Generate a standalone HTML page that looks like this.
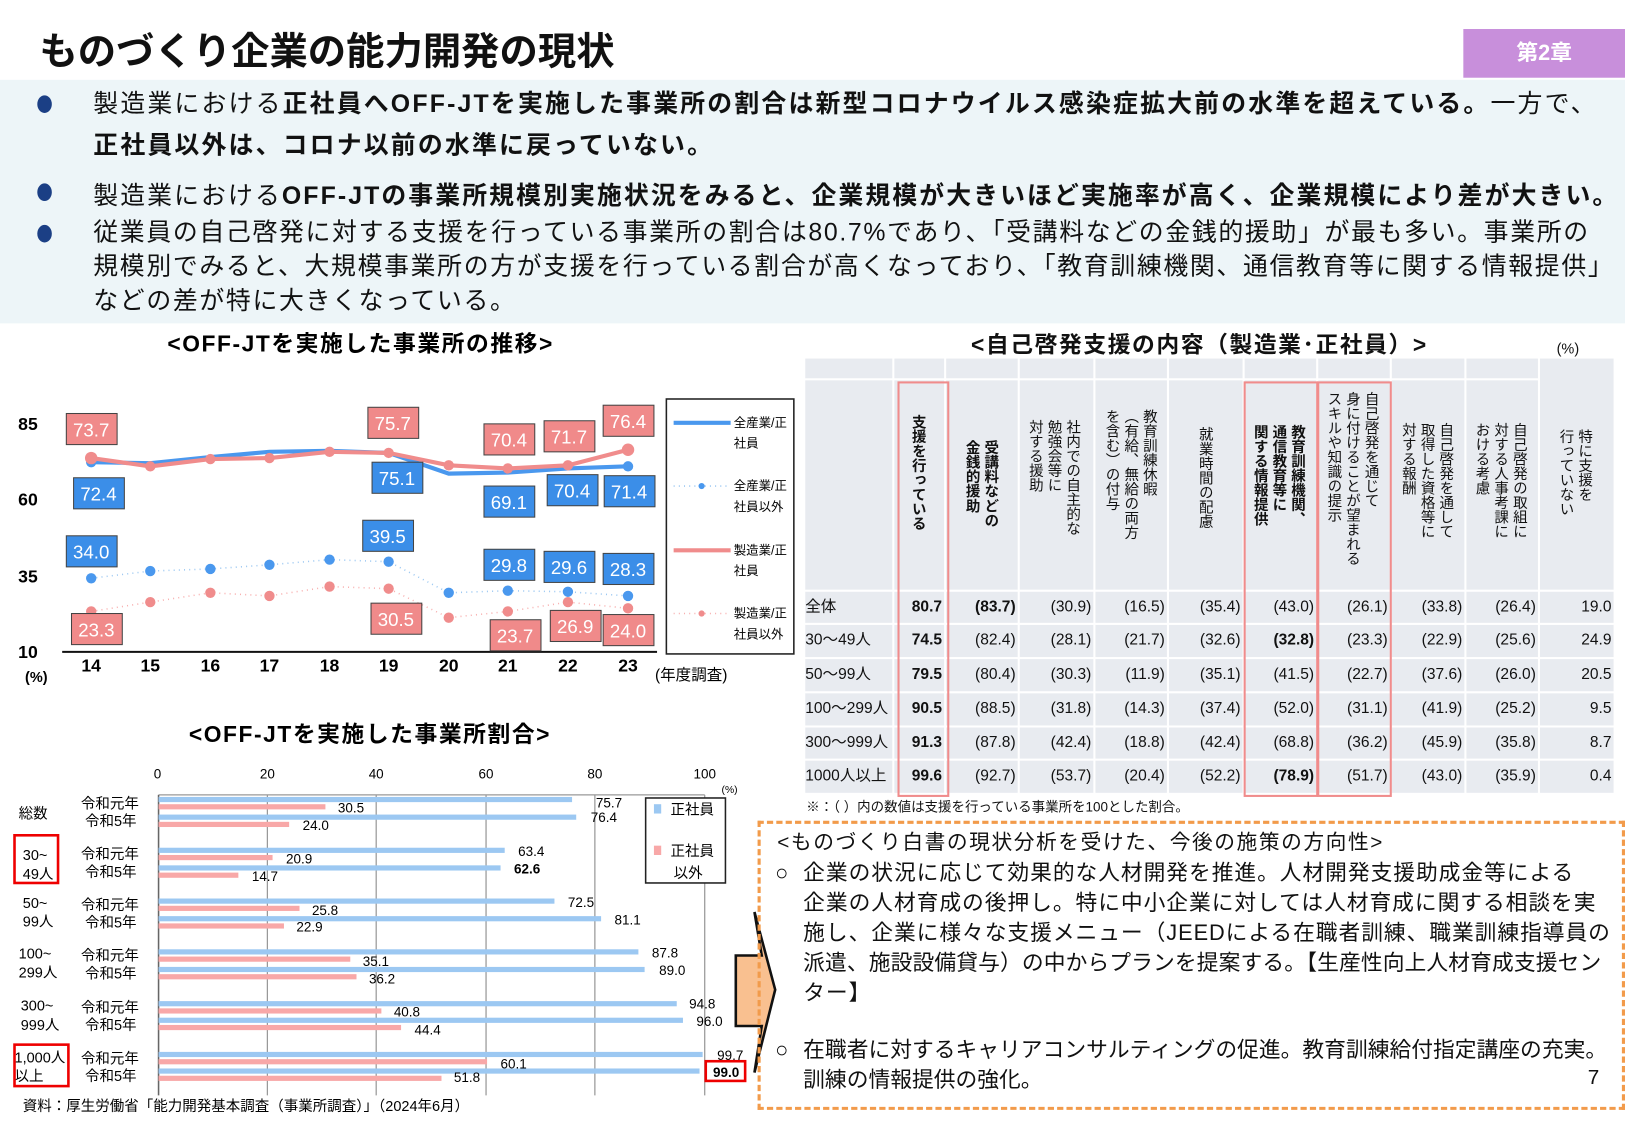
<!DOCTYPE html>
<html><head><meta charset="utf-8">
<style>
html,body{margin:0;padding:0;background:#fff;width:1625px;height:1125px;overflow:hidden}
#w{position:absolute;left:0;top:0;width:1568px;height:1085px;transform:scale(1.03635);transform-origin:0 0;font-family:"Liberation Sans","Noto Sans CJK JP",sans-serif;color:#111}
.a{position:absolute;white-space:nowrap}
.b{font-weight:bold}
svg text{font-family:"Liberation Sans","Noto Sans CJK JP",sans-serif}
.c{position:absolute;background:#e8ebf0;box-sizing:border-box;font-size:15px;text-align:right;line-height:30px;padding-right:2px;overflow:hidden}
.v{position:absolute;writing-mode:vertical-rl;font-size:14px;line-height:18px;white-space:nowrap}
</style></head><body><div id="w">
<div class="a b" style="left:38px;top:19px;font-size:37px">ものづくり企業の能力開発の現状</div>
<div class="a b" style="left:1412px;top:28px;width:156px;height:47px;background:#c88fdb;color:#fff;font-size:21px;text-align:center;line-height:47px">第2章</div>
<div class="a" style="left:0;top:77px;width:1568px;height:235px;background:#edf5f8"></div>
<div class="a" style="left:36px;top:92px;width:14px;height:17px;border-radius:50%;background:#1b3f85"></div>
<div class="a" style="left:36px;top:177px;width:14px;height:17px;border-radius:50%;background:#1b3f85"></div>
<div class="a" style="left:36px;top:217px;width:14px;height:17px;border-radius:50%;background:#1b3f85"></div>
<div class="a" style="left:90px;top:81px;font-size:24px;line-height:40px;letter-spacing:2.1px">製造業における<b>正社員へOFF-JTを実施した事業所の割合は新型コロナウイルス感染症拡大前の水準を超えている。</b>一方で、<br><b>正社員以外は、コロナ以前の水準に戻っていない。</b></div>
<div class="a" style="left:90px;top:169px;font-size:24px;letter-spacing:2px">製造業における<b>OFF-JTの事業所規模別実施状況をみると、企業規模が大きいほど実施率が高く、企業規模により差が大きい。</b></div>
<div class="a" style="left:90px;top:208px;font-size:24px;line-height:33px;letter-spacing:1.6px">従業員の自己啓発に対する支援を行っている事業所の割合は80.7%であり、「受講料などの金銭的援助」が最も多い。事業所の<br>規模別でみると、大規模事業所の方が支援を行っている割合が高くなっており、「教育訓練機関、通信教育等に関する情報提供」<br>などの差が特に大きくなっている。</div>

<svg class="a" style="left:0;top:0" width="780" height="1085">
<text x="348" y="339" font-size="22" font-weight="bold" text-anchor="middle" letter-spacing="1.5">&lt;OFF-JTを実施した事業所の推移&gt;</text>
<g font-size="17" font-weight="bold" text-anchor="middle">
<text x="27" y="415">85</text><text x="27" y="488">60</text><text x="27" y="562">35</text><text x="27" y="635">10</text>
<text x="35" y="658" font-size="14">(%)</text>
<text x="88" y="648">14</text><text x="145" y="648">15</text><text x="203" y="648">16</text><text x="260" y="648">17</text><text x="318" y="648">18</text><text x="375" y="648">19</text><text x="433" y="648">20</text><text x="490" y="648">21</text><text x="548" y="648">22</text><text x="606" y="648">23</text>
</g>
<text x="632" y="656" font-size="15">(年度調査)</text>
<line x1="60" y1="629" x2="634" y2="629" stroke="#111" stroke-width="2"/>
<polyline fill="none" stroke="#4a98ee" stroke-width="4" points="88,446 145,447 203,441 260,436 318,435 375,437 433,457 490,456 548,452 606,450"/>
<polyline fill="none" stroke="#f08c8c" stroke-width="4" points="88,442 145,450 203,443 260,442 318,436 375,437 433,449 490,452 548,449 606,434"/>
<g fill="#4a98ee"><circle cx="88" cy="446" r="5"/><circle cx="606" cy="450" r="5"/></g>
<g fill="#f08c8c"><circle cx="88" cy="442" r="6"/><circle cx="145" cy="450" r="5"/><circle cx="203" cy="443" r="5"/><circle cx="260" cy="442" r="5"/><circle cx="318" cy="436" r="5"/><circle cx="375" cy="437" r="5"/><circle cx="433" cy="449" r="5"/><circle cx="490" cy="452" r="5"/><circle cx="548" cy="449" r="5"/><circle cx="606" cy="434" r="6"/></g>
<polyline fill="none" stroke="#9cc8f2" stroke-width="1.5" stroke-dasharray="1,4" points="88,558 145,551 203,549 260,545 318,540 375,542 433,572 490,570 548,571 606,575"/>
<polyline fill="none" stroke="#f8b0b0" stroke-width="1.5" stroke-dasharray="1,4" points="88,590 145,581 203,572 260,575 318,566 375,568 433,596 490,590 548,581 606,587"/>
<g fill="#4a98ee"><circle cx="88" cy="558" r="5"/><circle cx="145" cy="551" r="5"/><circle cx="203" cy="549" r="5"/><circle cx="260" cy="545" r="5"/><circle cx="318" cy="540" r="5"/><circle cx="375" cy="542" r="5"/><circle cx="433" cy="572" r="5"/><circle cx="490" cy="570" r="5"/><circle cx="548" cy="571" r="5"/><circle cx="606" cy="575" r="5"/></g>
<g fill="#f08c8c"><circle cx="88" cy="590" r="5"/><circle cx="145" cy="581" r="5"/><circle cx="203" cy="572" r="5"/><circle cx="260" cy="575" r="5"/><circle cx="318" cy="566" r="5"/><circle cx="375" cy="568" r="5"/><circle cx="433" cy="596" r="5"/><circle cx="490" cy="590" r="5"/><circle cx="548" cy="581" r="5"/><circle cx="606" cy="587" r="5"/></g>
<g stroke="#444" stroke-width="1">
<g fill="#f08a8a"><rect x="64" y="399" width="49" height="30"/><rect x="355" y="393" width="49" height="30"/><rect x="467" y="409" width="49" height="30"/><rect x="525" y="406" width="49" height="30"/><rect x="582" y="391" width="49" height="30"/>
<rect x="69" y="592" width="49" height="30"/><rect x="358" y="582" width="49" height="30"/><rect x="473" y="598" width="49" height="30"/><rect x="531" y="589" width="49" height="30"/><rect x="582" y="593" width="49" height="30"/></g>
<g fill="#3b8ee8"><rect x="71" y="461" width="49" height="30"/><rect x="359" y="446" width="49" height="30"/><rect x="467" y="469" width="49" height="30"/><rect x="528" y="458" width="49" height="30"/><rect x="583" y="459" width="49" height="30"/>
<rect x="64" y="517" width="49" height="30"/><rect x="350" y="502" width="49" height="30"/><rect x="467" y="530" width="49" height="30"/><rect x="525" y="532" width="49" height="30"/><rect x="582" y="534" width="49" height="30"/></g>
</g>
<g font-size="18" fill="#fff" text-anchor="middle" font-family="Liberation Mono,monospace">
<text x="88" y="421">73.7</text><text x="379" y="415">75.7</text><text x="491" y="431">70.4</text><text x="549" y="428">71.7</text><text x="606" y="413">76.4</text>
<text x="93" y="614">23.3</text><text x="382" y="604">30.5</text><text x="497" y="620">23.7</text><text x="555" y="611">26.9</text><text x="606" y="615">24.0</text>
<text x="95" y="483">72.4</text><text x="383" y="468">75.1</text><text x="491" y="491">69.1</text><text x="552" y="480">70.4</text><text x="607" y="481">71.4</text>
<text x="88" y="539">34.0</text><text x="374" y="524">39.5</text><text x="491" y="552">29.8</text><text x="549" y="554">29.6</text><text x="606" y="556">28.3</text>
</g>
<rect x="643" y="385" width="123" height="246" fill="#fff" stroke="#222" stroke-width="1.5"/>
<line x1="650" y1="408" x2="705" y2="408" stroke="#4a98ee" stroke-width="4"/>
<line x1="650" y1="469" x2="705" y2="469" stroke="#9cc8f2" stroke-width="1.5" stroke-dasharray="1,4"/><circle cx="677" cy="469" r="3" fill="#4a98ee"/>
<line x1="650" y1="531" x2="705" y2="531" stroke="#f08c8c" stroke-width="4"/>
<line x1="650" y1="592" x2="705" y2="592" stroke="#f8b0b0" stroke-width="1.5" stroke-dasharray="1,4"/><circle cx="677" cy="592" r="3" fill="#f08c8c"/>
<g font-size="12"><text x="708" y="412">全産業/正</text><text x="708" y="432">社員</text><text x="708" y="473">全産業/正</text><text x="708" y="493">社員以外</text><text x="708" y="535">製造業/正</text><text x="708" y="555">社員</text><text x="708" y="596">製造業/正</text><text x="708" y="616">社員以外</text></g>

<text x="357" y="716" font-size="22" font-weight="bold" text-anchor="middle" letter-spacing="1.5">&lt;OFF-JTを実施した事業所割合&gt;</text>
<g font-size="13" text-anchor="middle"><text x="152" y="751">0</text><text x="258" y="751">20</text><text x="363" y="751">40</text><text x="469" y="751">60</text><text x="574" y="751">80</text><text x="680" y="751">100</text><text x="704" y="765" font-size="10">(%)</text></g>
<g stroke="#999" stroke-width="1.2"><line x1="258" y1="767" x2="258" y2="1057"/><line x1="363" y1="767" x2="363" y2="1057"/><line x1="469" y1="767" x2="469" y2="1057"/><line x1="574" y1="767" x2="574" y2="1057"/><line x1="680" y1="767" x2="680" y2="1057"/><line x1="153" y1="767" x2="680" y2="767"/></g>
<line x1="153" y1="767" x2="153" y2="1057" stroke="#666" stroke-width="1.5"/>
<g fill="#9cc8f2">
<rect x="153" y="769" width="399" height="5"/><rect x="153" y="786" width="403" height="5"/>
<rect x="153" y="818" width="334" height="5"/><rect x="153" y="835" width="330" height="5"/>
<rect x="153" y="867" width="382" height="5"/><rect x="153" y="884" width="427" height="5"/>
<rect x="153" y="916" width="463" height="5"/><rect x="153" y="933" width="469" height="5"/>
<rect x="153" y="966" width="500" height="5"/><rect x="153" y="982" width="506" height="5"/>
<rect x="153" y="1015" width="525" height="5"/><rect x="153" y="1031" width="522" height="5"/></g>
<g fill="#f8a8a8">
<rect x="153" y="776" width="161" height="5"/><rect x="153" y="793" width="126" height="5"/>
<rect x="153" y="825" width="110" height="5"/><rect x="153" y="842" width="77" height="5"/>
<rect x="153" y="874" width="136" height="5"/><rect x="153" y="891" width="121" height="5"/>
<rect x="153" y="923" width="185" height="5"/><rect x="153" y="940" width="191" height="5"/>
<rect x="153" y="973" width="215" height="5"/><rect x="153" y="989" width="234" height="5"/>
<rect x="153" y="1022" width="317" height="5"/><rect x="153" y="1038" width="273" height="5"/></g>
<g font-size="13">
<text x="575" y="779">75.7</text><text x="326" y="784">30.5</text><text x="570" y="793">76.4</text><text x="292" y="801">24.0</text>
<text x="500" y="826">63.4</text><text x="276" y="833">20.9</text><text x="496" y="843" font-weight="bold">62.6</text><text x="243" y="850">14.7</text>
<text x="548" y="875">72.5</text><text x="301" y="883">25.8</text><text x="593" y="892">81.1</text><text x="286" y="899">22.9</text>
<text x="629" y="924">87.8</text><text x="350" y="932">35.1</text><text x="636" y="941">89.0</text><text x="356" y="949">36.2</text>
<text x="665" y="973">94.8</text><text x="380" y="981">40.8</text><text x="672" y="990">96.0</text><text x="400" y="998">44.4</text>
<text x="692" y="1023">99.7</text><text x="483" y="1031">60.1</text><text x="438" y="1044">51.8</text><text x="688" y="1039" font-weight="bold">99.0</text></g>
<rect x="681" y="1024" width="38" height="19" fill="none" stroke="#e00" stroke-width="2.5"/>
<g font-size="14"><text x="18" y="790">総数</text><text x="22" y="830">30~</text><text x="22" y="848">49人</text><text x="22" y="876">50~</text><text x="22" y="894">99人</text><text x="18" y="925">100~</text><text x="18" y="943">299人</text><text x="20" y="975">300~</text><text x="20" y="994">999人</text><text x="14" y="1025">1,000人</text><text x="14" y="1043">以上</text></g>
<g font-size="14"><text x="78" y="780">令和元年</text><text x="82" y="797">令和5年</text><text x="78" y="829">令和元年</text><text x="82" y="846">令和5年</text><text x="78" y="878">令和元年</text><text x="82" y="895">令和5年</text><text x="78" y="927">令和元年</text><text x="82" y="944">令和5年</text><text x="78" y="977">令和元年</text><text x="82" y="994">令和5年</text><text x="78" y="1026">令和元年</text><text x="82" y="1043">令和5年</text></g>
<rect x="14" y="806" width="42" height="46" fill="none" stroke="#e00" stroke-width="2.5"/>
<rect x="14" y="1008" width="52" height="40" fill="none" stroke="#e00" stroke-width="2.5"/>
<rect x="623" y="770" width="77" height="82" fill="#fff" stroke="#222" stroke-width="1.5"/>
<rect x="631" y="776" width="7" height="9" fill="#9cc8f2"/><rect x="631" y="816" width="7" height="9" fill="#f8a8a8"/>
<g font-size="14"><text x="647" y="786">正社員</text><text x="647" y="826">正社員</text><text x="650" y="847">以外</text></g>
<text x="22" y="1072" font-size="14">資料：厚生労働省「能力開発基本調査（事業所調査）」（2024年6月）</text>
<path d="M710,922 L735,922 L728,880 L748,955 L728,1035 L735,990 L710,990 Z" fill="#f9c090" stroke="#111" stroke-width="2.5"/>
</svg>

<div class="a b" style="left:937px;top:315px;font-size:22px;letter-spacing:1.5px">&lt;自己啓発支援の内容（製造業･正社員）&gt;</div>
<div class="a" style="left:1502px;top:328px;font-size:14px">(%)</div>

<div style="position:absolute;left:0;top:0">
<div class="c" style="left:777px;top:346px;width:84px;height:19px"></div>
<div class="c" style="left:863px;top:346px;width:48px;height:19px"></div>
<div class="c" style="left:913px;top:346px;width:69px;height:19px"></div>
<div class="c" style="left:984px;top:346px;width:71px;height:19px"></div>
<div class="c" style="left:1057px;top:346px;width:69px;height:19px"></div>
<div class="c" style="left:1128px;top:346px;width:71px;height:19px"></div>
<div class="c" style="left:1201px;top:346px;width:69px;height:19px"></div>
<div class="c" style="left:1272px;top:346px;width:69px;height:19px"></div>
<div class="c" style="left:1343px;top:346px;width:70px;height:19px"></div>
<div class="c" style="left:1415px;top:346px;width:69px;height:19px"></div>
<div class="c" style="left:1486px;top:346px;width:71px;height:223px"></div>
<div class="c" style="left:777px;top:367px;width:84px;height:202px"></div>
<div class="c" style="left:863px;top:367px;width:48px;height:202px"></div>
<div class="c" style="left:913px;top:367px;width:69px;height:202px"></div>
<div class="c" style="left:984px;top:367px;width:71px;height:202px"></div>
<div class="c" style="left:1057px;top:367px;width:69px;height:202px"></div>
<div class="c" style="left:1128px;top:367px;width:71px;height:202px"></div>
<div class="c" style="left:1201px;top:367px;width:69px;height:202px"></div>
<div class="c" style="left:1272px;top:367px;width:69px;height:202px"></div>
<div class="c" style="left:1343px;top:367px;width:70px;height:202px"></div>
<div class="c" style="left:1415px;top:367px;width:69px;height:202px"></div>
</div>
<div class="v b" style="left:878px;top:400px">支援を行っている</div>
<div class="v b" style="left:930px;top:425px">受講料などの<br>金銭的援助</div>
<div class="v" style="left:991px;top:405px">社内での自主的な<br>勉強会等に<br>対する援助</div>
<div class="v" style="left:1065px;top:395px">教育訓練休暇<br>（有給、無給の両方<br>を含む）の付与</div>
<div class="v" style="left:1155px;top:412px">就業時間の配慮</div>
<div class="v b" style="left:1208px;top:410px">教育訓練機関、<br>通信教育等に<br>関する情報提供</div>
<div class="v" style="left:1279px;top:378px">自己啓発を通じて<br>身に付けることが望まれる<br>スキルや知識の提示</div>
<div class="v" style="left:1351px;top:408px">自己啓発を通して<br>取得した資格等に<br>対する報酬</div>
<div class="v" style="left:1422px;top:408px">自己啓発の取組に<br>対する人事考課に<br>おける考慮</div>
<div class="v" style="left:1503px;top:414px">特に支援を<br>行っていない</div>

<div style="position:absolute;left:0;top:571px">
<div style="position:relative;height:32px">
<div class="c" style="left:777px;top:0;width:84px;height:30px;text-align:left">全体</div><div class="c b" style="left:863px;top:0;width:48px;height:30px">80.7</div><div class="c b" style="left:913px;top:0;width:69px;height:30px">(83.7)</div><div class="c" style="left:984px;top:0;width:71px;height:30px">(30.9)</div><div class="c" style="left:1057px;top:0;width:69px;height:30px">(16.5)</div><div class="c" style="left:1128px;top:0;width:71px;height:30px">(35.4)</div><div class="c" style="left:1201px;top:0;width:69px;height:30px">(43.0)</div><div class="c" style="left:1272px;top:0;width:69px;height:30px">(26.1)</div><div class="c" style="left:1343px;top:0;width:70px;height:30px">(33.8)</div><div class="c" style="left:1415px;top:0;width:69px;height:30px">(26.4)</div><div class="c" style="left:1486px;top:0;width:71px;height:30px">19.0</div></div>
<div style="position:relative;height:33px">
<div class="c" style="left:777px;top:0;width:84px;height:31px;text-align:left">30～49人</div><div class="c b" style="left:863px;top:0;width:48px;height:31px">74.5</div><div class="c" style="left:913px;top:0;width:69px;height:31px">(82.4)</div><div class="c" style="left:984px;top:0;width:71px;height:31px">(28.1)</div><div class="c" style="left:1057px;top:0;width:69px;height:31px">(21.7)</div><div class="c" style="left:1128px;top:0;width:71px;height:31px">(32.6)</div><div class="c b" style="left:1201px;top:0;width:69px;height:31px">(32.8)</div><div class="c" style="left:1272px;top:0;width:69px;height:31px">(23.3)</div><div class="c" style="left:1343px;top:0;width:70px;height:31px">(22.9)</div><div class="c" style="left:1415px;top:0;width:69px;height:31px">(25.6)</div><div class="c" style="left:1486px;top:0;width:71px;height:31px">24.9</div></div>
<div style="position:relative;height:33px">
<div class="c" style="left:777px;top:0;width:84px;height:31px;text-align:left">50～99人</div><div class="c b" style="left:863px;top:0;width:48px;height:31px">79.5</div><div class="c" style="left:913px;top:0;width:69px;height:31px">(80.4)</div><div class="c" style="left:984px;top:0;width:71px;height:31px">(30.3)</div><div class="c" style="left:1057px;top:0;width:69px;height:31px">(11.9)</div><div class="c" style="left:1128px;top:0;width:71px;height:31px">(35.1)</div><div class="c" style="left:1201px;top:0;width:69px;height:31px">(41.5)</div><div class="c" style="left:1272px;top:0;width:69px;height:31px">(22.7)</div><div class="c" style="left:1343px;top:0;width:70px;height:31px">(37.6)</div><div class="c" style="left:1415px;top:0;width:69px;height:31px">(26.0)</div><div class="c" style="left:1486px;top:0;width:71px;height:31px">20.5</div></div>
<div style="position:relative;height:33px">
<div class="c" style="left:777px;top:0;width:84px;height:31px;text-align:left">100～299人</div><div class="c b" style="left:863px;top:0;width:48px;height:31px">90.5</div><div class="c" style="left:913px;top:0;width:69px;height:31px">(88.5)</div><div class="c" style="left:984px;top:0;width:71px;height:31px">(31.8)</div><div class="c" style="left:1057px;top:0;width:69px;height:31px">(14.3)</div><div class="c" style="left:1128px;top:0;width:71px;height:31px">(37.4)</div><div class="c" style="left:1201px;top:0;width:69px;height:31px">(52.0)</div><div class="c" style="left:1272px;top:0;width:69px;height:31px">(31.1)</div><div class="c" style="left:1343px;top:0;width:70px;height:31px">(41.9)</div><div class="c" style="left:1415px;top:0;width:69px;height:31px">(25.2)</div><div class="c" style="left:1486px;top:0;width:71px;height:31px">9.5</div></div>
<div style="position:relative;height:32px">
<div class="c" style="left:777px;top:0;width:84px;height:30px;text-align:left">300～999人</div><div class="c b" style="left:863px;top:0;width:48px;height:30px">91.3</div><div class="c" style="left:913px;top:0;width:69px;height:30px">(87.8)</div><div class="c" style="left:984px;top:0;width:71px;height:30px">(42.4)</div><div class="c" style="left:1057px;top:0;width:69px;height:30px">(18.8)</div><div class="c" style="left:1128px;top:0;width:71px;height:30px">(42.4)</div><div class="c" style="left:1201px;top:0;width:69px;height:30px">(68.8)</div><div class="c" style="left:1272px;top:0;width:69px;height:30px">(36.2)</div><div class="c" style="left:1343px;top:0;width:70px;height:30px">(45.9)</div><div class="c" style="left:1415px;top:0;width:69px;height:30px">(35.8)</div><div class="c" style="left:1486px;top:0;width:71px;height:30px">8.7</div></div>
<div style="position:relative;height:32px">
<div class="c" style="left:777px;top:0;width:84px;height:31px;text-align:left">1000人以上</div><div class="c b" style="left:863px;top:0;width:48px;height:31px">99.6</div><div class="c" style="left:913px;top:0;width:69px;height:31px">(92.7)</div><div class="c" style="left:984px;top:0;width:71px;height:31px">(53.7)</div><div class="c" style="left:1057px;top:0;width:69px;height:31px">(20.4)</div><div class="c" style="left:1128px;top:0;width:71px;height:31px">(52.2)</div><div class="c b" style="left:1201px;top:0;width:69px;height:31px">(78.9)</div><div class="c" style="left:1272px;top:0;width:69px;height:31px">(51.7)</div><div class="c" style="left:1343px;top:0;width:70px;height:31px">(43.0)</div><div class="c" style="left:1415px;top:0;width:69px;height:31px">(35.9)</div><div class="c" style="left:1486px;top:0;width:71px;height:31px">0.4</div></div>
</div>
<div class="a" style="left:866px;top:368px;width:46px;height:397px;border:2.5px solid #f08c8c"></div>
<div class="a" style="left:1200px;top:368px;width:68px;height:397px;border:2.5px solid #f08c8c"></div>
<div class="a" style="left:1271px;top:368px;width:68px;height:397px;border:2.5px solid #f08c8c"></div>
<div class="a" style="left:778px;top:768px;font-size:13px">※：（ ）内の数値は支援を行っている事業所を100とした割合。</div>

<div class="a" style="left:731px;top:792px;width:831px;height:273px;border:3px dashed #f29b4b"></div>
<div class="a" style="left:750px;top:799px;font-size:20px;line-height:29px;letter-spacing:1.5px">&lt;ものづくり白書の現状分析を受けた、今後の施策の方向性&gt;</div>
<div class="a" style="left:748px;top:828px;font-size:21px;line-height:29px">○</div>
<div class="a" style="left:775px;top:828px;font-size:21px;line-height:29px;letter-spacing:0.9px">企業の状況に応じて効果的な人材開発を推進。人材開発支援助成金等による<br>企業の人材育成の後押し。特に中小企業に対しては人材育成に関する相談を実<br>施し、企業に様々な支援メニュー（JEEDによる在職者訓練、職業訓練指導員の<br><span style="letter-spacing:0.1px">派遣、施設設備貸与）の中からプランを提案する。【生産性向上人材育成支援セン</span><br>ター】</div>
<div class="a" style="left:748px;top:999px;font-size:21px;line-height:29px">○</div>
<div class="a" style="left:775px;top:999px;font-size:21px;line-height:29px;letter-spacing:0px">在職者に対するキャリアコンサルティングの促進。教育訓練給付指定講座の充実。<br>訓練の情報提供の強化。</div>
<div class="a" style="left:1532px;top:1029px;font-size:20px">7</div>
</div></body></html>
